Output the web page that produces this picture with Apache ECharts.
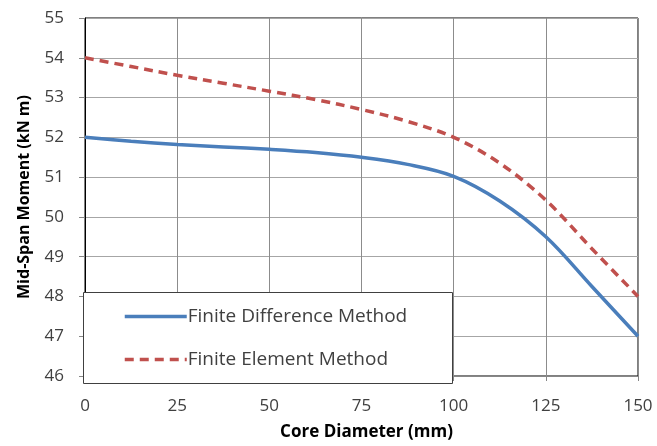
<!DOCTYPE html>
<html><head><meta charset="utf-8">
<script src="https://cdn.jsdelivr.net/npm/echarts@6/dist/echarts.min.js"></script>
<style>html,body{margin:0;padding:0;background:#fff}#c{width:657px;height:446px}</style>
</head><body><div id="c"></div>
<script>
const diameters = [0, 12.5, 25, 37.5, 50, 62.5, 75, 87.5, 100, 112.5, 125, 137.5, 150];
const finiteDifference = [52.0, 51.9, 51.82, 51.76, 51.7, 51.62, 51.5, 51.32, 51.02, 50.4, 49.5, 48.25, 47.0];
const finiteElement = [54.0, 53.78, 53.56, 53.36, 53.16, 52.95, 52.7, 52.4, 52.0, 51.35, 50.42, 49.2, 48.0];
const xTicks = [0, 25, 50, 75, 100, 125, 150];
const yTicks = [46, 47, 48, 49, 50, 51, 52, 53, 54, 55];

const font = '"Open Sans", "Noto Sans", sans-serif';
const pair = (ys) => diameters.map((x, i) => [x, ys[i]]);
const chart = echarts.init(document.getElementById('c'));
chart.setOption({
  animation: false,
  grid: {left: 85, right: 19, top: 18, bottom: 64, show: true, borderColor: '#000', borderWidth: 1},
  xAxis: {
    type: 'value', min: xTicks[0], max: xTicks[xTicks.length - 1], interval: 25,
    name: 'Core Diameter (mm)', nameLocation: 'middle', nameGap: 48,
    nameTextStyle: {fontFamily: font, fontWeight: 'bold', fontSize: 17, color: '#000', padding: [0, 0, 0, 10]},
    axisLine: {show: true, onZero: false, lineStyle: {color: '#868686', width: 1}},
    axisTick: {show: true, length: 5, lineStyle: {color: '#868686'}},
    axisLabel: {fontFamily: font, fontSize: 17, color: '#404040', margin: 22},
    splitLine: {show: true, lineStyle: {color: '#8c8c8c', width: 1}}
  },
  yAxis: {
    type: 'value', min: yTicks[0], max: yTicks[yTicks.length - 1], interval: 1,
    name: 'Mid-Span Moment (kN m)', nameLocation: 'middle', nameGap: 53,
    nameTextStyle: {fontFamily: font, fontWeight: 'bold', fontSize: 16, color: '#000'},
    axisLine: {show: true, lineStyle: {color: '#000', width: 1}},
    axisTick: {show: true, length: 6, lineStyle: {color: '#868686'}},
    axisLabel: {fontFamily: font, fontSize: 17, color: '#404040', margin: 21},
    splitLine: {show: true, lineStyle: {color: '#a6a6a6', width: 1}}
  },
  graphic: [{
    type: 'rect', z: 3, left: 83, top: 292,
    shape: {width: 369, height: 91},
    style: {fill: '#fff', stroke: '#404040', lineWidth: 1}
  }],
  legend: {
    z: 5, orient: 'vertical', left: 118, top: 302, itemGap: 24,
    itemWidth: 62, itemHeight: 22, itemStyle: {opacity: 0},
    textStyle: {fontFamily: font, fontSize: 19, color: '#404040', padding: [0, 0, 0, -4]},
    data: [
      {name: 'Finite Difference Method', lineStyle: {width: 3.5, color: '#4a7ebb'}},
      {name: 'Finite Element Method', lineStyle: {width: 3.5, color: '#c0504d', type: [9, 6]}}
    ]
  },
  series: [
    {name: 'Finite Difference Method', type: 'line', smooth: 0.35, showSymbol: false, symbol: 'none',
     data: pair(finiteDifference), lineStyle: {color: '#4a7ebb', width: 3.5}, itemStyle: {color: '#4a7ebb'}, z: 2},
    {name: 'Finite Element Method', type: 'line', smooth: 0.35, showSymbol: false, symbol: 'none',
     data: pair(finiteElement), lineStyle: {color: '#c0504d', width: 3.5, type: [9, 6]}, itemStyle: {color: '#c0504d'}, z: 2}
  ]
});
</script></body></html>
